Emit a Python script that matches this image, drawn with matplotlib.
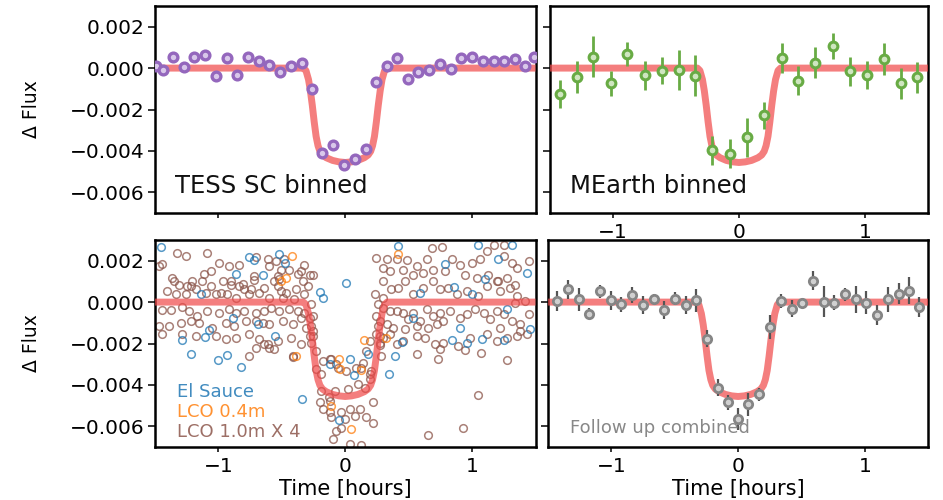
import numpy as np
import matplotlib
matplotlib.use("Agg")
import matplotlib.pyplot as plt

PPT = 1e-3  # fluxes below are in parts per thousand

# Best-fit transit model (hours, ppt)
model_time = [-1.5, -0.33, -0.31, -0.29, -0.275, -0.26, -0.245, -0.23, -0.215, -0.20,
              -0.18, -0.15, -0.10, -0.05, 0.0, 0.05, 0.10, 0.15, 0.18, 0.20, 0.215,
              0.23, 0.245, 0.26, 0.275, 0.29, 0.31, 0.33, 1.5]
model_flux = [0.0, 0.0, -0.12, -0.55, -1.1, -1.8, -2.6, -3.3, -3.75, -4.02,
              -4.2, -4.33, -4.46, -4.53, -4.56, -4.53, -4.46, -4.33, -4.2, -4.02, -3.75,
              -3.3, -2.6, -1.8, -1.1, -0.55, -0.12, 0.0, 0.0]

# TESS short cadence, binned
tess_time = [-1.496, -1.438, -1.359, -1.272, -1.193, -1.106, -1.021, -0.934, -0.850, -0.770,
             -0.683, -0.599, -0.512, -0.427, -0.343, -0.264, -0.182, -0.098, -0.011, 0.074,
             0.161, 0.245, 0.325, 0.404, 0.491, 0.575, 0.662, 0.747, 0.831, 0.910,
             0.997, 1.082, 1.169, 1.248, 1.335, 1.420, 1.485]
tess_flux = [0.11, -0.10, 0.55, 0.03, 0.55, 0.65, -0.37, 0.50, -0.34, 0.56,
             0.35, 0.16, -0.21, 0.11, 0.27, -1.02, -4.08, -3.73, -4.69, -4.37,
             -3.92, -0.66, 0.11, 0.50, -0.53, -0.18, -0.10, 0.19, -0.05, 0.47,
             0.56, 0.35, 0.35, 0.35, 0.44, 0.11, 0.56]
tess_err = 0.15

# MEarth, binned
mearth_time = [-1.424, -1.287, -1.160, -1.017, -0.885, -0.745, -0.613, -0.473, -0.349, -0.211,
               -0.071, 0.066, 0.201, 0.339, 0.471, 0.603, 0.743, 0.880, 1.012, 1.152,
               1.284, 1.416]
mearth_flux = [-1.26, -0.45, 0.56, -0.74, 0.68, -0.34, -0.13, -0.10, -0.37, -3.97,
               -4.13, -3.35, -2.27, 0.47, -0.61, 0.27, 1.08, -0.16, -0.34, 0.44,
               -0.74, -0.45]
mearth_err = [0.69, 0.77, 0.97, 0.60, 0.56, 0.70, 0.65, 0.97, 1.00, 0.69,
              0.70, 0.94, 0.65, 0.73, 0.70, 0.73, 0.63, 0.70, 0.68, 0.77,
              0.73, 0.73]

# Ground-based follow-up, combined and binned
fu_time = [-1.429, -1.342, -1.257, -1.173, -1.090, -1.005, -0.921, -0.839, -0.754, -0.667,
           -0.582, -0.497, -0.415, -0.331, -0.247, -0.160, -0.077, 0.003, 0.082, 0.169,
           0.248, 0.341, 0.425, 0.507, 0.592, 0.677, 0.759, 0.844, 0.929, 1.008,
           1.100, 1.187, 1.267, 1.346, 1.429]
fu_flux = [0.05, 0.61, 0.13, -0.56, 0.53, 0.08, -0.11, 0.34, -0.14, 0.13,
           -0.39, 0.16, -0.14, 0.08, -1.77, -4.13, -4.85, -5.65, -4.93, -4.45,
           -1.20, 0.05, -0.31, -0.03, 1.04, 0.02, -0.03, 0.37, 0.13, -0.03,
           -0.63, 0.13, 0.40, 0.56, -0.24]
fu_err = [0.48, 0.45, 0.56, 0.26, 0.32, 0.47, 0.35, 0.38, 0.42, 0.24,
          0.42, 0.32, 0.42, 0.56, 0.40, 0.43, 0.35, 0.55, 0.56, 0.32,
          0.56, 0.32, 0.42, 0.16, 0.45, 0.74, 0.35, 0.32, 0.64, 0.56,
          0.48, 0.61, 0.51, 0.64, 0.48]

# El Sauce, unbinned
es_time = [-1.449, -0.757, -0.723, -0.520, -0.472, -0.652, -0.863, -1.140, 0.008, -0.203,
           -0.172, -1.219, -1.285, -1.106, -1.074, -0.889, -0.691, -0.551, -1.000, -0.929,
           -0.823, -0.124, 0.040, 0.066, 0.346, 0.391, -0.343, -0.050, 0.451, 0.536,
           0.786, 0.858, 1.050, 1.208, 1.314, 1.433, 1.274, 0.905, 0.839, 0.958,
           1.077, 0.997, 1.459, 0.588, 0.417, 0.179, 1.103, 1.248]
es_flux = [2.65, 2.17, 2.04, 2.33, 1.90, 1.30, 1.38, 0.37, 0.93, 0.50,
           0.21, -2.52, -1.85, -1.69, -1.37, -0.79, -1.08, -1.64, -2.81, -2.55,
           -3.13, -2.97, -2.76, -3.53, -3.49, -2.60, -4.69, -5.70, -1.91, -0.79,
           1.82, 0.72, 2.75, 2.06, 2.78, 1.41, -0.35, -1.24, -1.85, -1.96,
           -1.80, 0.37, -1.32, 0.45, 2.70, -2.49, 1.14, -1.82]

# LCO 0.4m, unbinned
lco04_time = [-0.420, -0.467, -0.388, -0.050, -0.045, 0.145, 0.319, -0.111, 0.047, 0.417,
              -0.507, 0.127]
lco04_flux = [2.22, 1.17, -2.60, -2.76, -3.24, -1.85, -1.72, -5.01, -6.14, 2.33,
              1.04, -3.29]

# LCO 1.0m (four telescopes), unbinned
lco10_time = [
    -1.325, -1.259, -1.087, -0.995, -0.916, -0.836, -0.704, -0.612, -0.546, -0.480,
    -0.322, -0.348, -0.282, -0.507, -0.441, -0.375, -0.256, 0.245, 0.325, 0.404,
    0.483, 0.562, 0.641, 0.681, 0.760, 0.839, 0.905, 0.997, 1.063, 1.116,
    1.169, 1.248, 1.248, 1.314, 1.354, 1.446, 1.129, 1.208, 1.274, 1.340,
    1.037, 0.945, 0.786, 0.694, 0.615, 0.536, 0.456, 0.351, 0.298,
    -1.443, -1.113, -1.061, -0.968, -0.902, -0.810, -0.744, -1.351, -1.219, -0.599,
    -0.520, -0.533, -0.718,
    -1.470, -1.364, -1.311, -1.245, -1.206, -1.127, -1.061, -0.982, -0.902, -0.836,
    -0.797, -0.718, -0.639, -0.559, -0.533, -0.507, -0.467, -0.388, -0.335, -0.296,
    -1.404, -1.338, -1.259, -1.179, -1.100, -1.021, -0.929, -0.863, -0.757, -0.678,
    -0.599, -0.493, -0.401, -0.322, 0.232, 0.298, 0.364, 0.417, 0.470, 0.536,
    0.615, 0.694, 0.747, 0.813, 0.879, 0.958, 1.050, 1.116, 1.195, 1.222,
    1.301, 1.354, 1.420, 1.340, 0.298,
    -1.443, -1.377, -1.285, -1.232, -1.166, -1.087, -0.995, -0.916, -0.863, -0.797,
    -0.704, -0.639, -0.586, -0.520, -0.441, -0.375, -0.322, -0.282, -1.470, -1.390,
    -1.298, -1.219, -1.153, -1.047, -0.942, -0.876, -0.784, -0.704, -0.652, -0.599,
    -0.493, -0.414, -0.348, -0.309, -0.256, 0.298, 0.351, 0.404, 0.456, 0.496,
    0.536, 0.588, 0.641, 0.694, 0.747, 0.773, 0.826, 0.905, 0.958, 1.024,
    1.090, 1.142, 1.195, 1.248, 1.314, 1.380, 1.446, 0.272, 0.325, 0.377,
    0.470, 0.562, 0.654, 0.720, 1.222, 1.380, 1.433,
    -1.443, -1.285, -1.179, -1.021, -0.942, -0.863, -0.757, -0.678, -0.612, -0.533,
    -0.427, -0.348, -0.282, -0.757, -0.704, -0.639, -0.599, -0.559, -0.414, -0.269,
    -0.230, -0.177, -0.111, -0.071, 0.008, 0.087, 0.140, 0.166, 0.193, 0.206,
    0.245, 0.272, 0.298, 0.351, 0.404, 0.456, 0.562, 0.628, 0.707, 0.747,
    0.773, 0.892, 0.984, 1.116, 1.195, 1.274, 1.354, 0.562, 0.734, 0.945,
    1.071, 1.274, 1.045, 0.926, 0.649,
    -0.230, -0.190, -0.124, -0.058, 0.127, 0.193, 0.100, 0.021, -0.084, -0.190,
    0.193, 0.153, -0.203, -0.177, -0.124, -0.032, 0.034, 0.113, 0.074, 0.166,
    -0.005, -0.111, 0.219, -0.032, -0.071, -0.098, 0.127, 0.219, 0.272, 0.285,
    -0.409, -0.129, 0.034, -0.124, -0.269, -0.256, -0.269, -0.256, 0.259, 0.245,
    0.259, 0.272]
lco10_flux = [
    2.38, 2.22, 2.38, 1.90, 1.73, 1.77, 2.17, 2.06, 1.98, 2.06,
    1.77, 1.49, 1.33, 1.57, 1.57, 1.37, 1.30, 2.14, 2.06, 2.06,
    2.01, 1.73, 2.06, 2.62, 2.65, 2.06, 1.78, 1.90, 2.06, 2.46,
    2.78, 2.78, 2.22, 1.90, 1.65, 1.98, 1.33, 1.01, 1.17, 0.85,
    1.17, 1.33, 1.49, 1.57, 1.41, 1.33, 1.57, 1.49, 1.65,
    1.83, 1.35, 1.51, 1.03, 1.03, 0.87, 0.63, 1.03, 0.79, 1.75,
    1.11, 1.27, 1.24,
    1.73, 1.17, 0.85, 0.77, 1.01, 1.01, 0.77, 0.45, 0.85, 0.77,
    0.61, 1.09, 0.69, 1.01, 0.77, 0.53, 0.45, 0.61, 1.01, 0.77,
    0.53, 0.37, 0.37, 0.61, 0.45, 0.37, 0.37, 0.21, 0.37, 0.45,
    0.21, 0.21, 0.13, 0.37, 0.40, 1.01, 0.61, 0.69, 1.01, 0.37,
    0.69, 1.01, 0.61, 0.69, 0.37, 0.53, 0.29, 0.77, 1.01, 0.53,
    0.69, 0.29, 0.05, -0.03, 0.21,
    -0.40, -0.40, -0.24, -0.43, -0.67, -0.43, -0.51, -0.35, -0.51, -0.43,
    -0.51, -0.43, -0.27, -0.43, -0.35, -0.43, -0.51, -0.75, -1.16, -1.16,
    -1.00, -0.92, -1.00, -1.24, -1.00, -1.16, -0.92, -0.92, -1.00, -1.08,
    -0.92, -1.08, -0.75, -1.24, -1.40, -0.27, -0.43, -0.43, -0.51, -0.84,
    -0.51, -0.92, -0.35, -0.67, -0.51, -0.92, -0.43, -0.75, -0.59, -0.35,
    -0.51, -0.84, -0.43, -0.59, -0.92, -1.08, -0.59, -0.92, -1.08, -1.24,
    -1.32, -1.16, -1.24, -1.08, -1.24, -1.40, -1.56,
    -1.56, -1.56, -1.64, -1.64, -1.80, -1.72, -1.56, -1.80, -2.04, -1.88,
    -1.72, -2.04, -1.64, -2.60, -2.20, -2.04, -2.20, -2.28, -2.60, -1.96,
    -2.36, -2.84, -2.76, -3.00, -3.32, -3.16, -2.92, -2.36, -1.88, -3.32,
    -1.56, -1.96, -1.72, -1.56, -2.04, -1.88, -1.64, -1.72, -2.04, -2.28,
    -1.96, -2.12, -1.72, -1.56, -1.88, -1.72, -1.64, -2.52, -2.76, -2.33,
    -2.47, -2.79, -4.50, -6.07, -6.42,
    -3.24, -3.49, -2.76, -3.16, -3.16, -3.49, -3.97, -4.21, -4.29, -4.29,
    -3.73, -4.13, -4.85, -5.17, -5.33, -5.33, -5.17, -5.17, -5.49, -5.54,
    -5.65, -5.57, -5.86, -6.06, -6.22, -6.62, -6.89, -4.85, -2.07, -2.60,
    -2.65, -4.58, -6.86, -4.77, -0.10, -0.66, -1.14, -1.62, -0.10, -0.66,
    -1.14, -1.62]

MODEL_COLOR = "#f04848"
PURPLE = "#9467bd"
GREEN = "#68ab44"
BLUE = "#1f77b4"
ORANGE = "#ff7f0e"
BROWN = "#8c564b"

plt.rcParams["font.family"] = ["DejaVu Sans"]

fig = plt.figure(figsize=(9.43, 5.0), dpi=100)
ax_tl = fig.add_axes([0.1644, 0.574, 0.4035, 0.414])
ax_tr = fig.add_axes([0.5832, 0.574, 0.4009, 0.414])
ax_bl = fig.add_axes([0.1644, 0.106, 0.4035, 0.414])
ax_br = fig.add_axes([0.5812, 0.106, 0.4030, 0.414])

mt = np.array(model_time)
mf = np.array(model_flux) * PPT


def style(ax, xlabels=True, ylabels=True):
    ax.set_xlim(-1.5, 1.5)
    ax.set_ylim(-0.007, 0.003)
    ax.set_xticks([-1, 0, 1])
    ax.set_yticks([-0.006, -0.004, -0.002, 0.0, 0.002])
    for sp in ax.spines.values():
        sp.set_linewidth(1.8)
    ax.tick_params(axis="y", direction="out", length=5, width=1.1, pad=2.5,
                   labelsize=14.5, labelleft=ylabels)
    ax.tick_params(axis="x", direction="out", length=3.5, width=1.1, pad=3.5,
                   labelsize=14.5, labelbottom=xlabels)


def draw_model(ax):
    ax.plot(mt, mf, color=MODEL_COLOR, lw=5, alpha=0.7, zorder=3,
            solid_joinstyle="round", solid_capstyle="butt")


# Top left: TESS
style(ax_tl, xlabels=False)
draw_model(ax_tl)
ax_tl.errorbar(tess_time, np.array(tess_flux) * PPT, yerr=tess_err * PPT, fmt="o",
               color=PURPLE, mfc="#d9c8ea", mec=PURPLE, ms=6.3, mew=2.4,
               elinewidth=1.5, capsize=0, zorder=4)
ax_tl.text(0.052, 0.097, "TESS SC binned", transform=ax_tl.transAxes,
           fontsize=17.5, color="#111111", va="baseline", ha="left", zorder=5)
ax_tl.set_ylabel("Δ Flux", fontsize=13.5)
ax_tl.yaxis.set_label_coords(-0.30, 0.5)

# Top right: MEarth
style(ax_tr, ylabels=False)
draw_model(ax_tr)
ax_tr.errorbar(mearth_time, np.array(mearth_flux) * PPT, yerr=np.array(mearth_err) * PPT,
               fmt="o", color=GREEN, mfc="#cfe6c0", mec=GREEN, ms=6.3, mew=2.2,
               elinewidth=2.0, capsize=0, zorder=4)
ax_tr.text(0.053, 0.097, "MEarth binned", transform=ax_tr.transAxes,
           fontsize=17.5, color="#111111", va="baseline", ha="left", zorder=5)

# Bottom left: unbinned follow-up photometry
style(ax_bl)
ax_bl.plot(lco10_time, np.array(lco10_flux) * PPT, "o", mfc="none", mec=BROWN,
           ms=5.5, mew=1.1, alpha=0.75, zorder=2)
ax_bl.plot(es_time, np.array(es_flux) * PPT, "o", mfc="none", mec=BLUE,
           ms=5.5, mew=1.1, alpha=0.75, zorder=2)
ax_bl.plot(lco04_time, np.array(lco04_flux) * PPT, "o", mfc="none", mec=ORANGE,
           ms=5.5, mew=1.1, alpha=0.75, zorder=2)
draw_model(ax_bl)
for label, color, ypos in [("El Sauce", BLUE, 0.24), ("LCO 0.4m", ORANGE, 0.143),
                           ("LCO 1.0m X 4", BROWN, 0.046)]:
    ax_bl.text(0.058, ypos, label, transform=ax_bl.transAxes, fontsize=13,
               color=color, alpha=0.85, va="baseline", ha="left", zorder=5)
ax_bl.set_ylabel("Δ Flux", fontsize=13.5)
ax_bl.yaxis.set_label_coords(-0.30, 0.5)
ax_bl.set_xlabel("Time [hours]", fontsize=15, labelpad=2)

# Bottom right: follow-up combined
style(ax_br, ylabels=False)
draw_model(ax_br)
ax_br.errorbar(fu_time, np.array(fu_flux) * PPT, yerr=np.array(fu_err) * PPT, fmt="o",
               color="#555555", mfc="#d0d0d0", mec="#858585", ms=6.0, mew=2.0,
               elinewidth=1.6, capsize=0, zorder=4)
ax_br.text(0.058, 0.068, "Follow up combined", transform=ax_br.transAxes,
           fontsize=13, color="#888888", va="baseline", ha="left", zorder=5)
ax_br.set_xlabel("Time [hours]", fontsize=15, labelpad=2)

fig.savefig("out.png", dpi=100)
